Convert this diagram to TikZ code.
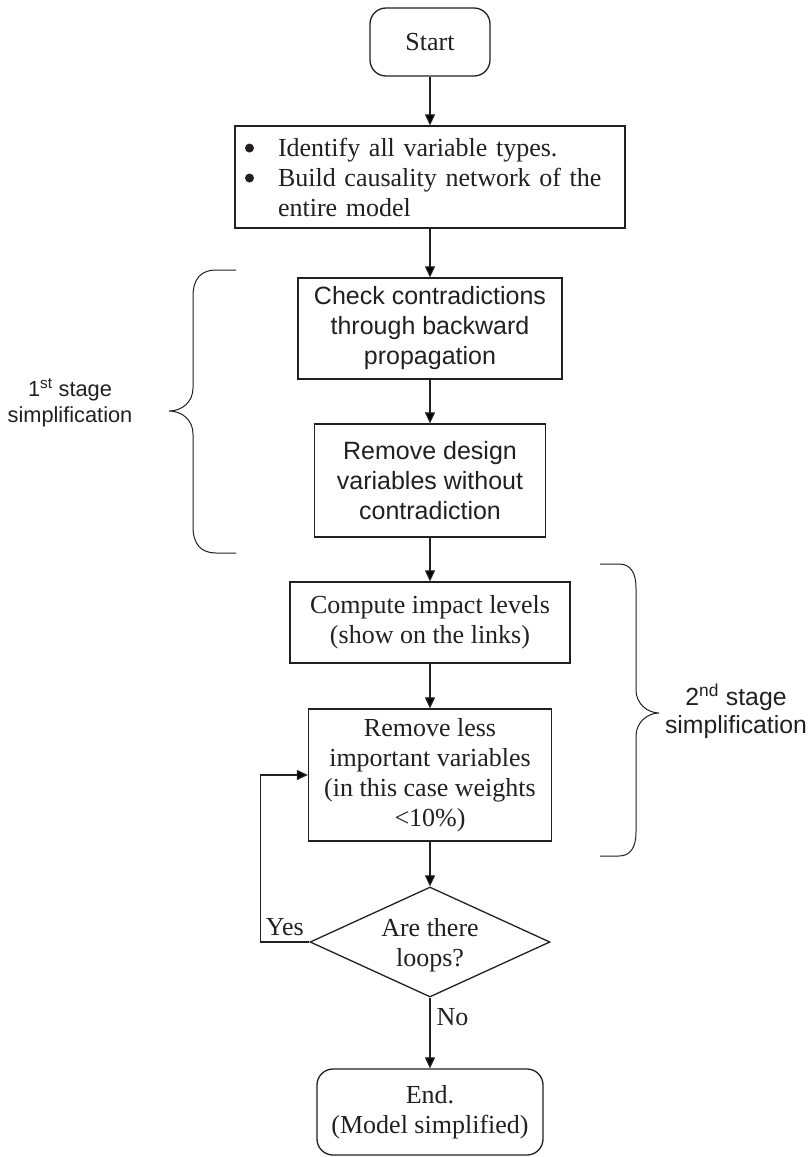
\documentclass[tikz,border=0pt]{standalone}
\usepackage{fontspec}
\setmainfont{Liberation Serif}
\newfontfamily\arialfont{Liberation Sans}
\usetikzlibrary{shapes.geometric,arrows.meta}
\definecolor{ink}{RGB}{35,31,32}
% round list bullet, centred 8pt above the baseline
\newcommand\listdot{\tikz[baseline=-8pt]\fill[ink] (0,0) circle (4.5pt);}
\begin{document}
\begin{tikzpicture}[x=1pt,y=-1pt,
  every node/.style={text=ink},
  serif/.style={font=\fontsize{26}{30}\selectfont},
  sans/.style={font=\arialfont\fontsize{25}{30}\selectfont},
  box/.style={draw=ink, line width=1.3pt, rectangle, align=center, inner sep=0pt},
  flow/.style={draw=ink, line width=1.2pt, -{Triangle[length=11pt,width=10pt]}},
  brace/.style={draw=ink, line width=1pt},
]
\useasboundingbox (0,0) rectangle (811,1157);

% process steps
\node[box, serif, rounded corners=16pt, minimum width=120pt, minimum height=68pt] (start) at (430,42) {Start};
\node[box, serif, minimum height=102pt, text width=370pt, align=left, inner xsep=10pt] (ident) at (430,177)
  {\makebox[33pt][l]{\listdot}Identify all variable types.\\
   \makebox[33pt][l]{\listdot}Build causality network of the\\
   \hspace*{33pt}entire model};
\node[box, sans, minimum width=264pt, minimum height=101pt] (check) at (430,328.5)
  {Check contradictions\\through backward\\propagation};
\node[box, sans, minimum width=231pt, minimum height=113pt] (design) at (430,480.5)
  {Remove design\\variables without\\contradiction};
\node[box, serif, minimum width=280pt, minimum height=81pt] (impact) at (430,622.5)
  {Compute impact levels\\(show on the links)};
\node[box, serif, minimum width=243pt, minimum height=132pt] (less) at (430,775)
  {Remove less\\important variables\\(in this case weights\\<10\%)};
\node[diamond, draw=ink, line width=1.3pt, minimum width=240pt, minimum height=110pt, inner sep=0pt] (loops) at (430,942) {};
\node[serif, align=center] (loopstxt) at (430,945) {Are there\\loops?};
\node[box, serif, rounded corners=16pt, minimum width=226pt, minimum height=86pt] (finish) at (430,1112)
  {End.\\(Model simplified)};

% connectors
\draw[flow] (start) -- (ident);
\draw[flow] (ident) -- (check);
\draw[flow] (check) -- (design);
\draw[flow] (design) -- (impact);
\draw[flow] (impact) -- (less);
\draw[flow] (less) -- (loops);
\draw[flow] (loops.south) -- node[serif, pos=0.28, anchor=west, xshift=6pt, inner sep=0pt] {No} (finish.north);
\draw[flow] (loops.west) -- node[serif, anchor=base, yshift=7pt] {Yes} ++(-49,0) |- (less.west);

% stage braces
\draw[brace] (236,270) -- (216,270) .. controls (201,270) and (193,279) .. (193,296) -- (193,388)
  .. controls (193,402) and (182,411) .. (169,411)
  .. controls (182,411) and (193,420) .. (193,434) -- (193,527)
  .. controls (193,544) and (201,553) .. (216,553) -- (236,553);
\node[font=\arialfont\fontsize{21.8}{26}\selectfont, align=center] (stage1) at (70,403)
  {1\textsuperscript{st} stage\\simplification};

\draw[brace] (600,564) -- (619,564) .. controls (630,564) and (636,572) .. (636,588) -- (636,690)
  .. controls (636,704) and (648,713) .. (659,713)
  .. controls (648,713) and (636,722) .. (636,736) -- (636,832)
  .. controls (636,848) and (630,856) .. (619,856) -- (600,856);
\node[font=\arialfont\fontsize{24.8}{28}\selectfont, align=center] (stage2) at (736,711)
  {2\textsuperscript{nd} stage\\simplification};
\end{tikzpicture}
\end{document}
